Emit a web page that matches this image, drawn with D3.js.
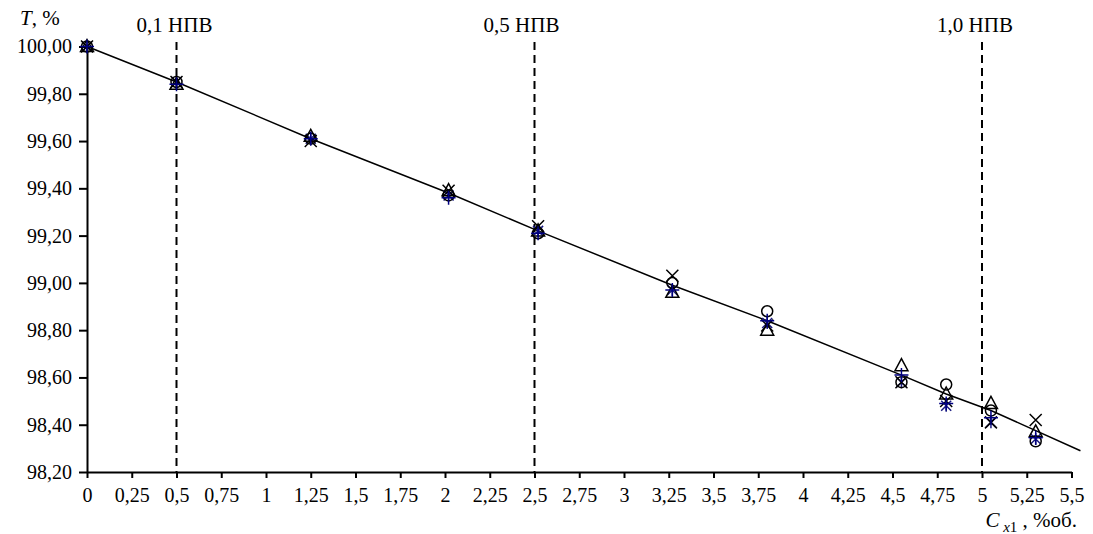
<!DOCTYPE html>
<html>
<head>
<meta charset="utf-8">
<script src="https://cdn.jsdelivr.net/npm/d3@7"></script>
<style>
  body { margin: 0; background: #fff; }
  .axis path, .axis line { stroke: #000; stroke-width: 2; }
  text { font-family: 'Liberation Serif', 'Times New Roman', Times, 'DejaVu Serif', serif !important; }
</style>
</head>
<body>
<svg id="chart" width="1093" height="534"></svg>
<script>
// x values of the measurements, %об.
const conc = [0, 0.5, 1.25, 2.02, 2.52, 3.27, 3.8, 4.55, 4.8, 5.05, 5.3];

// transmission T, % for each series
const seriesCircle   = [100.00, 99.85, 99.61, 99.37, 99.21, 99.00, 98.88, 98.58, 98.57, 98.46, 98.33];
const seriesTriangle = [100.00, 99.84, 99.62, 99.39, 99.22, 98.96, 98.80, 98.65, 98.53, 98.49, 98.37];
const seriesCross    = [100.00, 99.85, 99.60, 99.39, 99.24, 99.03, 98.82, 98.58, 98.50, 98.41, 98.42];
const seriesStar     = [100.00, 99.85, 99.61, 99.37, 99.22, 98.97, 98.83, 98.58, 98.48, 98.41, 98.34];
const seriesPlus     = [100.00, 99.84, 99.61, 99.36, 99.21, 98.97, 98.84, 98.61, 98.49, 98.43, 98.345];

// approximation line
const lineX = [0, 0.5, 1.25, 2.02, 2.52, 3.27, 3.8, 4.55, 4.8, 5.05, 5.55];
const lineY = [100.00, 99.85, 99.61, 99.38, 99.22, 98.99, 98.84, 98.61, 98.53, 98.46, 98.29];

// concentration limits
const limitX = [0.5, 2.5, 5.0];
const limitLabels = ["0,1 НПВ", "0,5 НПВ", "1,0 НПВ"];

const xTicks = d3.range(0, 5.51, 0.25);
const yTicks = d3.range(98.2, 100.01, 0.2);

const svg = d3.select('#chart');

const x = d3.scaleLinear().domain([0, 5.5]).range([87, 1071.5]);
const y = d3.scaleLinear().domain([98.2, 100]).range([472, 46.5]);

const fmtX = d => String(+d.toFixed(2)).replace('.', ',');
const fmtY = d => d.toFixed(2).replace('.', ',');

// axes
svg.append('g')
  .attr('class', 'axis')
  .attr('transform', 'translate(0,472)')
  .call(d3.axisBottom(x).tickValues(xTicks).tickFormat(fmtX).tickSize(6).tickSizeOuter(0))
  .attr('font-size', 20)
  .call(g => g.selectAll('text').attr('dy', '1.05em').attr('fill', '#000'));

svg.append('g')
  .attr('class', 'axis')
  .attr('transform', 'translate(87,0)')
  .call(d3.axisLeft(y).tickValues(yTicks).tickFormat(fmtY).tickSize(8).tickSizeOuter(0))
  .attr('font-size', 20)
  .call(g => g.selectAll('text').attr('x', -15).attr('fill', '#000'));

// dashed limit lines
svg.selectAll('.limit')
  .data(limitX)
  .enter()
  .append('line')
  .attr('class', 'limit')
  .attr('x1', d => x(d))
  .attr('x2', d => x(d))
  .attr('y1', 42)
  .attr('y2', 472)
  .attr('stroke', '#000')
  .attr('stroke-width', 2)
  .attr('stroke-dasharray', '8,5');

svg.selectAll('.limit-label')
  .data(limitLabels)
  .enter()
  .append('text')
  .attr('x', (d, i) => x(limitX[i]) - [2, 13, 7][i])
  .attr('y', 32)
  .attr('text-anchor', 'middle')
  .attr('font-size', 21)
  .text(d => d);

// approximation line
const line = d3.line().x(d => x(d[0])).y(d => y(d[1]));
svg.append('path')
  .datum(lineX.map((v, i) => [v, lineY[i]]))
  .attr('d', line)
  .attr('fill', 'none')
  .attr('stroke', '#000')
  .attr('stroke-width', 1.5);

// markers
const marks = svg.append('g').attr('fill', 'none').attr('stroke-width', 1.5);

const draw = {
  circle: (g, px, py, c) => g.append('circle').attr('cx', px).attr('cy', py).attr('r', 5.5).attr('stroke', c),
  triangle: (g, px, py, c) => g.append('path')
    .attr('d', `M${px},${py - 7}L${px + 6.5},${py + 5}L${px - 6.5},${py + 5}Z`).attr('stroke', c),
  cross: (g, px, py, c) => g.append('path')
    .attr('d', `M${px - 6},${py - 6}L${px + 6},${py + 6}M${px + 6},${py - 6}L${px - 6},${py + 6}`).attr('stroke', c),
  star: (g, px, py, c) => g.append('path')
    .attr('d', `M${px - 5},${py - 5}L${px + 5},${py + 5}M${px + 5},${py - 5}L${px - 5},${py + 5}M${px},${py - 6}L${px},${py + 6}`).attr('stroke', c),
  plus: (g, px, py, c) => g.append('path')
    .attr('d', `M${px - 7},${py}L${px + 7},${py}M${px},${py - 7}L${px},${py + 7}`).attr('stroke', c)
};

const series = [
  { values: seriesStar, shape: 'star', color: '#1a1a80' },
  { values: seriesCircle, shape: 'circle', color: '#000' },
  { values: seriesTriangle, shape: 'triangle', color: '#000' },
  { values: seriesCross, shape: 'cross', color: '#000' },
  { values: seriesPlus, shape: 'plus', color: '#000080' }
];

series.forEach(s => {
  s.values.forEach((v, i) => draw[s.shape](marks, x(conc[i]), y(v), s.color));
});

// axis titles
const yTitle = svg.append('text').attr('x', 20).attr('y', 25).attr('font-size', 21);
yTitle.append('tspan').attr('font-style', 'italic').text('T');
yTitle.append('tspan').text(', %');

const xTitle = svg.append('text').attr('x', 1077).attr('y', 527).attr('text-anchor', 'end').attr('font-size', 21);
xTitle.append('tspan').attr('font-style', 'italic').text('C');
xTitle.append('tspan').attr('font-style', 'italic').attr('font-size', 15).attr('dy', 5).text(' x');
xTitle.append('tspan').attr('font-size', 15).text('1');
xTitle.append('tspan').attr('dy', -5).text(' , %об.');
</script>
</body>
</html>
